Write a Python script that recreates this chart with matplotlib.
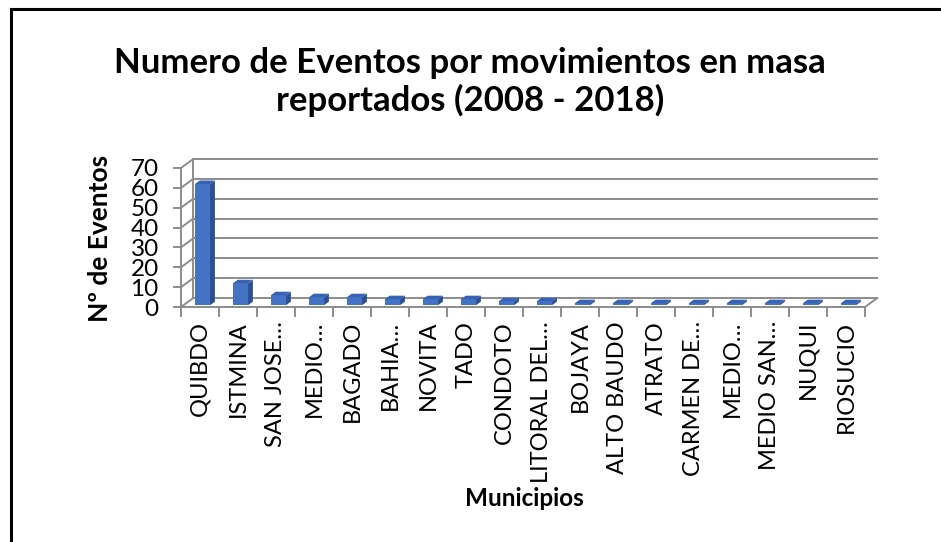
import matplotlib.pyplot as plt
from matplotlib.patches import Polygon
from matplotlib.lines import Line2D
import numpy as np

municipios = ['QUIBDO', 'ISTMINA', 'SAN JOSE…', 'MEDIO…', 'BAGADO', 'BAHIA…', 'NOVITA', 'TADO',
              'CONDOTO', 'LITORAL DEL…', 'BOJAYA', 'ALTO BAUDO', 'ATRATO', 'CARMEN DE…',
              'MEDIO…', 'MEDIO SAN…', 'NUQUI', 'RIOSUCIO']
eventos = [61, 11, 5, 4, 4, 3, 3, 3, 2, 2, 1, 1, 1, 1, 1, 1, 1, 1]
yticks = [0, 10, 20, 30, 40, 50, 60, 70]

plt.rcParams['font.family'] = ['Lato', 'DejaVu Sans']

fig = plt.figure(figsize=(9.41, 5.42), dpi=100)
ax = fig.add_axes([181/941, 1-307/542, 684/941, 139/542])
n = len(municipios)
ax.set_xlim(0, n)
ax.set_ylim(0, 70)
for s in ax.spines.values():
    s.set_visible(False)

# efecto 3D (pared de fondo desplazada)
dx, dy = 0.32, 4.5
gris = '#8c8c8c'
lw = 1.4

for v in yticks:
    ax.plot([dx, n + dx], [v + dy, v + dy], color=gris, lw=lw, clip_on=False, zorder=1)
    ax.plot([0, dx], [v, v + dy], color=gris, lw=lw, clip_on=False, zorder=1)
ax.plot([dx, dx], [dy, 70 + dy], color=gris, lw=lw, clip_on=False, zorder=1)
ax.plot([0, 0], [0, 70], color=gris, lw=lw, clip_on=False, zorder=2)
ax.plot([0, n], [0, 0], color=gris, lw=lw, clip_on=False, zorder=2)
ax.plot([n, n + dx], [0, dy], color=gris, lw=lw, clip_on=False, zorder=2)

# barras
x = np.arange(n) + 0.5
w = 0.4
b = 0.2 * dy
ox, oy = 0.4 * dx, 0.4 * dy
ax.bar(x + 0.2 * dx, eventos, width=w, bottom=b, color='#4472c4', zorder=3, clip_on=False)
for xi, v in zip(x + 0.2 * dx, eventos):
    xl, xr = xi - w / 2, xi + w / 2
    lado = Polygon([(xr, b), (xr + ox, b + oy), (xr + ox, b + oy + v), (xr, b + v)],
                   closed=True, facecolor='#2c4f8f', edgecolor='none', zorder=3, clip_on=False)
    tapa = Polygon([(xl, b + v), (xr, b + v), (xr + ox, b + v + oy), (xl + ox, b + v + oy)],
                   closed=True, facecolor='#3863b5', edgecolor='none', zorder=3, clip_on=False)
    ax.add_patch(lado)
    ax.add_patch(tapa)

ax.set_yticks(yticks)
ax.set_yticklabels([str(t) for t in yticks], fontsize=17.5)
ax.tick_params(axis='y', length=6, width=lw, color=gris, pad=10)

ax.set_xticks(np.arange(n + 1))
ax.set_xticklabels([])
ax.tick_params(axis='x', which='major', length=7, width=lw, color=gris)
ax.set_xticks(x, minor=True)
ax.set_xticklabels(municipios, minor=True, rotation=90, fontsize=17, va='top', ha='center')
ax.tick_params(axis='x', which='minor', length=0, pad=10)

fig.text(100/941, 1 - 238/542, 'Nº de Eventos', rotation=90, ha='center', va='center',
         fontsize=19, fontweight='bold')
fig.text(524/941, 1 - 498/542, 'Municipios', ha='center', va='center',
         fontsize=17.5, fontweight='bold')
fig.text(470/941, 1 - 82/542, 'Numero de Eventos por movimientos en masa\nreportados (2008 - 2018)',
         ha='center', va='center', fontsize=25, fontweight='bold', linespacing=1.2)

# borde del grafico
x0, y0 = 11/941, 1 - 9/542
fig.add_artist(Line2D([x0, x0], [0, y0], color='black', lw=2.2))
fig.add_artist(Line2D([x0, 1], [y0, y0], color='black', lw=2.2))

fig.savefig('out.png', dpi=100)
